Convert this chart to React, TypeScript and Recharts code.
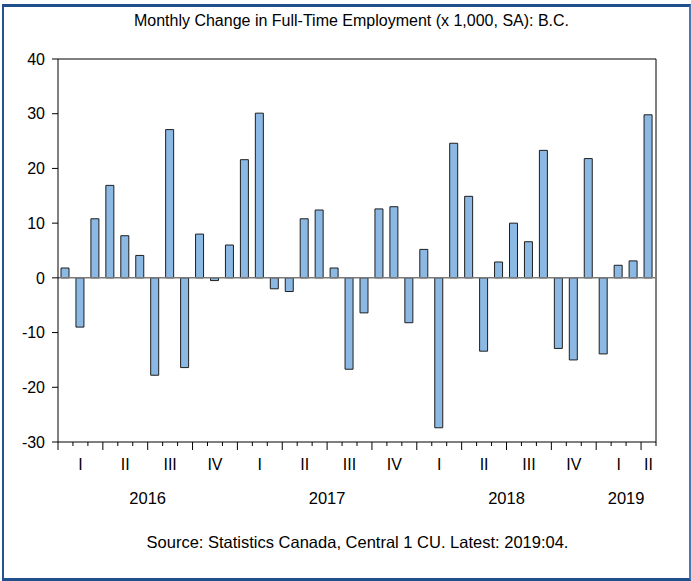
import { Bar, BarChart, ReferenceLine, XAxis, YAxis } from "recharts"

const months = [
  "2016:01", "2016:02", "2016:03", "2016:04", "2016:05", "2016:06",
  "2016:07", "2016:08", "2016:09", "2016:10", "2016:11", "2016:12",
  "2017:01", "2017:02", "2017:03", "2017:04", "2017:05", "2017:06",
  "2017:07", "2017:08", "2017:09", "2017:10", "2017:11", "2017:12",
  "2018:01", "2018:02", "2018:03", "2018:04", "2018:05", "2018:06",
  "2018:07", "2018:08", "2018:09", "2018:10", "2018:11", "2018:12",
  "2019:01", "2019:02", "2019:03", "2019:04",
]

const changes = [
  1.8, -9.0, 10.8, 16.9, 7.7, 4.1, -17.8, 27.1, -16.4, 8.0, -0.5, 6.0,
  21.6, 30.1, -2.0, -2.5, 10.8, 12.4, 1.8, -16.7, -6.4, 12.6, 13.0, -8.2,
  5.2, -27.4, 24.6, 14.9, -13.4, 2.9, 10.0, 6.6, 23.3, -12.9, -15.0, 21.8,
  -13.9, 2.3, 3.1, 29.8,
]

const quarterNames = ["I", "II", "III", "IV"]
const yTicks = [-30, -20, -10, 0, 10, 20, 30, 40]

const data = months.map((m, i) => ({ month: m, value: changes[i] }))

const FONT = "'Liberation Sans', Arial, sans-serif"

function MonthTick(props: any) {
  const { x, y, payload, width } = props
  const i: number = payload.index
  const n = months.length
  const bw = (width ?? 598) / n
  const [yr, mo] = months[i].split(":")
  const monthNum = parseInt(mo, 10)
  const left = x - bw / 2
  const quarterStart = (monthNum - 1) % 3 === 0
  const showQuarter = (monthNum - 1) % 3 === 1 || (i === n - 1 && quarterStart)
  const yearMonths = months.filter((m) => m.startsWith(yr)).length
  const yearStart = monthNum === 1
  return (
    <g>
      <line x1={left} x2={left} y1={y} y2={y + (quarterStart ? 8 : 4)} stroke="#000" />
      {i === n - 1 && <line x1={x + bw / 2} x2={x + bw / 2} y1={y} y2={y + 4} stroke="#000" />}
      {showQuarter && (
        <text x={x} y={y + 28} textAnchor="middle" fontSize={16} fontFamily={FONT} fill="#000">
          {quarterNames[Math.floor((monthNum - 1) / 3)]}
        </text>
      )}
      {yearStart && (
        <text x={left + (yearMonths * bw) / 2} y={y + 62} textAnchor="middle" fontSize={16.5} fontFamily={FONT} fill="#000">
          {yr}
        </text>
      )}
    </g>
  )
}

export default function App() {
  return (
    <div style={{ position: "absolute", left: 0, top: 0, width: 691, height: 581, background: "#fff" }}>
      <div
        style={{
          position: "absolute",
          left: 2,
          top: 4,
          width: 689,
          height: 577,
          boxSizing: "border-box",
          borderStyle: "solid",
          borderColor: "#1f4f8d #4a78b6 #1f4f8d #22528f",
          borderWidth: "3px 2px 3px 2px",
        }}
      />
      <div
        style={{
          position: "absolute",
          top: 12,
          left: 6,
          width: 691,
          textAlign: "center",
          fontFamily: FONT,
          fontSize: 16,
          color: "#000",
        }}
      >
        Monthly Change in Full-Time Employment (x 1,000, SA): B.C.
      </div>
      <div style={{ position: "absolute", left: 0, top: 0 }}>
        <BarChart
          width={691}
          height={581}
          data={data}
          margin={{ top: 59, right: 35, bottom: 79, left: 0 }}
          barSize={8}
        >
          <XAxis
            dataKey="month"
            interval={0}
            tickLine={false}
            tickSize={0}
            tickMargin={0}
            axisLine={{ stroke: "#000" }}
            tick={<MonthTick />}
            height={60}
          />
          <YAxis
            domain={[-30, 40]}
            ticks={yTicks}
            interval={0}
            width={58}
            tickSize={6}
            tickMargin={7}
            axisLine={{ stroke: "#000" }}
            tickLine={{ stroke: "#000" }}
            tick={{ fill: "#000", fontSize: 16, fontFamily: FONT }}
          />
          <ReferenceLine y={40} stroke="#000" />
          <ReferenceLine x="2019:04" position="end" stroke="#000" />
          <ReferenceLine y={0} stroke="#7a7a7a" strokeWidth={1.5} />
          <Bar dataKey="value" fill="#8cb9e3" stroke="#1e1e1e" strokeWidth={1} isAnimationActive={false} />
        </BarChart>
      </div>
      <div
        style={{
          position: "absolute",
          top: 533,
          left: 12,
          width: 691,
          textAlign: "center",
          fontFamily: FONT,
          fontSize: 16.5,
          color: "#000",
        }}
      >
        Source: Statistics Canada, Central 1 CU. Latest: 2019:04.
      </div>
    </div>
  )
}
